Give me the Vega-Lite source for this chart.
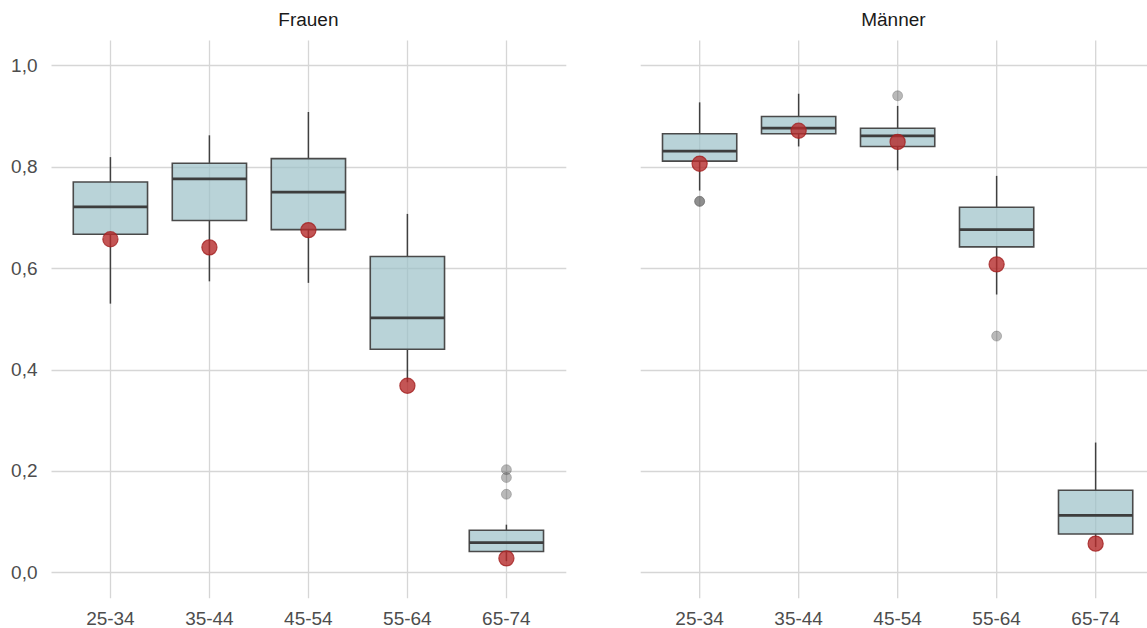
{
  "$schema": "https://vega.github.io/schema/vega-lite/v6.json",
  "autosize": {"type": "pad"},
  "padding": {"left": 10, "top": 11, "right": 0, "bottom": 0},
  "background": "white",
  "spacing": 74.2,
  "data": {
    "values": [
      {"sex": "Frauen", "age": "25-34", "lower": 0.530, "q1": 0.667, "median": 0.721, "q3": 0.770, "upper": 0.819, "point": 0.657},
      {"sex": "Frauen", "age": "35-44", "lower": 0.574, "q1": 0.694, "median": 0.776, "q3": 0.807, "upper": 0.862, "point": 0.641},
      {"sex": "Frauen", "age": "45-54", "lower": 0.571, "q1": 0.676, "median": 0.750, "q3": 0.816, "upper": 0.908, "point": 0.675},
      {"sex": "Frauen", "age": "55-64", "lower": 0.375, "q1": 0.440, "median": 0.502, "q3": 0.623, "upper": 0.707, "point": 0.368},
      {"sex": "Frauen", "age": "65-74", "lower": 0.022, "q1": 0.041, "median": 0.0585, "q3": 0.083, "upper": 0.094, "point": 0.0276},
      {"sex": "Frauen", "age": "65-74", "outlier": 0.2025},
      {"sex": "Frauen", "age": "65-74", "outlier": 0.187},
      {"sex": "Frauen", "age": "65-74", "outlier": 0.154},
      {"sex": "Männer", "age": "25-34", "lower": 0.753, "q1": 0.811, "median": 0.831, "q3": 0.865, "upper": 0.927, "point": 0.806},
      {"sex": "Männer", "age": "35-44", "lower": 0.840, "q1": 0.865, "median": 0.876, "q3": 0.899, "upper": 0.944, "point": 0.871},
      {"sex": "Männer", "age": "45-54", "lower": 0.793, "q1": 0.840, "median": 0.861, "q3": 0.876, "upper": 0.920, "point": 0.849},
      {"sex": "Männer", "age": "55-64", "lower": 0.548, "q1": 0.642, "median": 0.676, "q3": 0.720, "upper": 0.782, "point": 0.6075},
      {"sex": "Männer", "age": "65-74", "lower": 0.050, "q1": 0.0756, "median": 0.1124, "q3": 0.162, "upper": 0.256, "point": 0.0566},
      {"sex": "Männer", "age": "25-34", "outlier": 0.732},
      {"sex": "Männer", "age": "25-34", "outlier": 0.7315},
      {"sex": "Männer", "age": "45-54", "outlier": 0.940},
      {"sex": "Männer", "age": "55-64", "outlier": 0.466}
    ]
  },
  "config": {
    "view": {"stroke": null},
    "font": "Liberation Sans",
    "axis": {
      "domain": false,
      "ticks": false,
      "gridColor": "#d6d6d6",
      "gridWidth": 1.3,
      "labelColor": "#4d4d4d",
      "labelFontSize": 19,
      "labelFont": "Liberation Sans"
    },
    "title": {"fontSize": 19, "fontWeight": "normal", "color": "#1a1a1a", "font": "Liberation Sans", "offset": 10, "anchor": "middle"}
  },
  "hconcat": [
    {
      "title": "Frauen",
      "width": 514.8,
      "height": 557.7,
      "transform": [{"filter": "datum.sex == 'Frauen'"}],
      "encoding": {
        "x": {
          "field": "age", "type": "ordinal", "title": null,
          "sort": ["25-34", "35-44", "45-54", "55-64", "65-74"],
          "scale": {"type": "band", "paddingInner": 0.25, "paddingOuter": 0.225, "align": 0.5},
          "axis": {"labelAngle": 0, "labelPadding": 12, "bandPosition": 0.5, "grid": true}
        }
      },
      "layer": [
        {
          "transform": [{"filter": "isValid(datum.q1)"}],
          "mark": {"type": "rule", "color": "#404040", "strokeWidth": 1.5},
          "encoding": {
            "y": {"field": "lower", "type": "quantitative", "title": null,
              "scale": {"domain": [-0.05, 1.05], "nice": false, "zero": false},
              "axis": {"values": [0, 0.2, 0.4, 0.6, 0.8, 1.0], "labelPadding": 14, "labelExpr": "replace(format(datum.value, '.1f'), '.', ',')"}},
            "y2": {"field": "q1"}
          }
        },
        {
          "transform": [{"filter": "isValid(datum.q1)"}],
          "mark": {"type": "rule", "color": "#404040", "strokeWidth": 1.5},
          "encoding": {
            "y": {"field": "q3", "type": "quantitative", "title": null},
            "y2": {"field": "upper"}
          }
        },
        {
          "transform": [{"filter": "isValid(datum.q1)"}],
          "mark": {"type": "bar", "fill": "#9bc0c7", "fillOpacity": 0.7, "stroke": "#4a4a4a", "strokeWidth": 1.6},
          "encoding": {
            "y": {"field": "q1", "type": "quantitative", "title": null},
            "y2": {"field": "q3"}
          }
        },
        {
          "transform": [{"filter": "isValid(datum.q1)"}],
          "mark": {"type": "tick", "color": "#3d3d3d", "size": 74.25, "thickness": 2.8, "opacity": 1},
          "encoding": {
            "y": {"field": "median", "type": "quantitative", "title": null}
          }
        },
        {
          "transform": [{"filter": "isValid(datum.outlier)"}],
          "mark": {"type": "point", "filled": true, "fill": "#505050", "fillOpacity": 0.4, "stroke": "#505050", "strokeOpacity": 0.3, "strokeWidth": 1, "size": 100},
          "encoding": {
            "y": {"field": "outlier", "type": "quantitative", "title": null}
          }
        },
        {
          "transform": [{"filter": "isValid(datum.point)"}],
          "mark": {"type": "point", "filled": true, "fill": "#b52b2b", "fillOpacity": 0.8, "stroke": "#a32020", "strokeOpacity": 0.8, "strokeWidth": 1.2, "size": 230},
          "encoding": {
            "y": {"field": "point", "type": "quantitative", "title": null}
          }
        }
      ]
    },
    {
      "title": "Männer",
      "width": 506.4,
      "height": 557.7,
      "transform": [{"filter": "datum.sex == 'Männer'"}],
      "encoding": {
        "x": {
          "field": "age", "type": "ordinal", "title": null,
          "sort": ["25-34", "35-44", "45-54", "55-64", "65-74"],
          "scale": {"type": "band", "paddingInner": 0.25, "paddingOuter": 0.1826, "align": 0.617},
          "axis": {"labelAngle": 0, "labelPadding": 12, "bandPosition": 0.5, "grid": true}
        }
      },
      "layer": [
        {
          "transform": [{"filter": "isValid(datum.q1)"}],
          "mark": {"type": "rule", "color": "#404040", "strokeWidth": 1.5},
          "encoding": {
            "y": {"field": "lower", "type": "quantitative", "title": null,
              "scale": {"domain": [-0.05, 1.05], "nice": false, "zero": false},
              "axis": {"values": [0, 0.2, 0.4, 0.6, 0.8, 1.0], "labels": false}},
            "y2": {"field": "q1"}
          }
        },
        {
          "transform": [{"filter": "isValid(datum.q1)"}],
          "mark": {"type": "rule", "color": "#404040", "strokeWidth": 1.5},
          "encoding": {
            "y": {"field": "q3", "type": "quantitative", "title": null},
            "y2": {"field": "upper"}
          }
        },
        {
          "transform": [{"filter": "isValid(datum.q1)"}],
          "mark": {"type": "bar", "fill": "#9bc0c7", "fillOpacity": 0.7, "stroke": "#4a4a4a", "strokeWidth": 1.6},
          "encoding": {
            "y": {"field": "q1", "type": "quantitative", "title": null},
            "y2": {"field": "q3"}
          }
        },
        {
          "transform": [{"filter": "isValid(datum.q1)"}],
          "mark": {"type": "tick", "color": "#3d3d3d", "size": 74.25, "thickness": 2.8, "opacity": 1},
          "encoding": {
            "y": {"field": "median", "type": "quantitative", "title": null}
          }
        },
        {
          "transform": [{"filter": "isValid(datum.outlier)"}],
          "mark": {"type": "point", "filled": true, "fill": "#505050", "fillOpacity": 0.4, "stroke": "#505050", "strokeOpacity": 0.3, "strokeWidth": 1, "size": 100},
          "encoding": {
            "y": {"field": "outlier", "type": "quantitative", "title": null}
          }
        },
        {
          "transform": [{"filter": "isValid(datum.point)"}],
          "mark": {"type": "point", "filled": true, "fill": "#b52b2b", "fillOpacity": 0.8, "stroke": "#a32020", "strokeOpacity": 0.8, "strokeWidth": 1.2, "size": 230},
          "encoding": {
            "y": {"field": "point", "type": "quantitative", "title": null}
          }
        }
      ]
    }
  ]
}
